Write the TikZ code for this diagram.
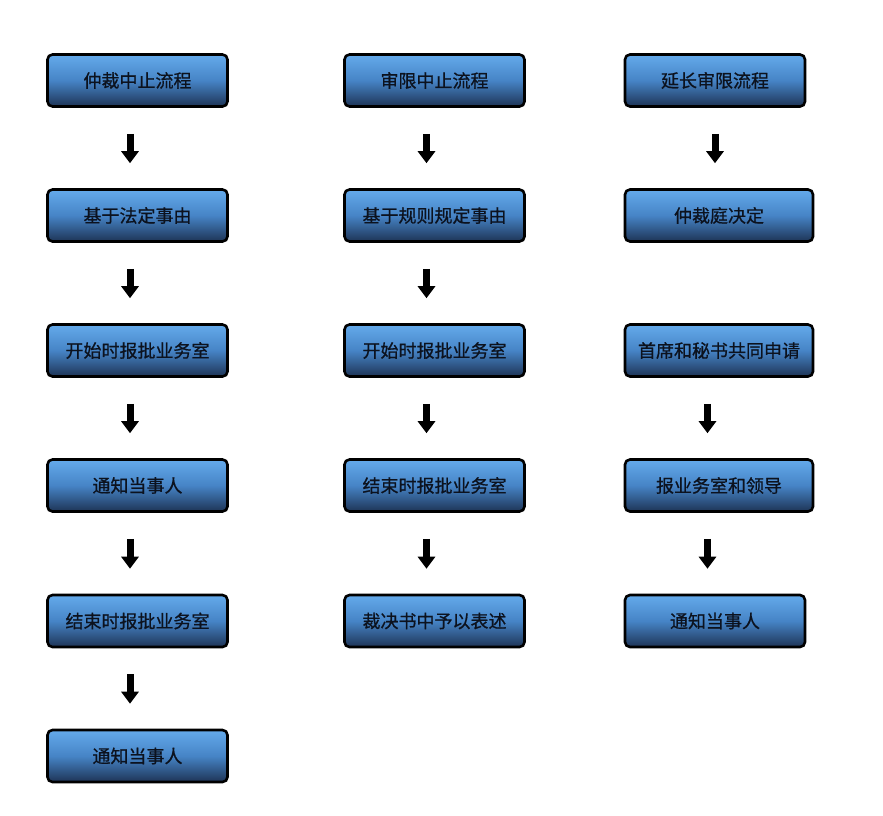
\documentclass[tikz,border=0pt]{standalone}
\usepackage{fontspec}
\setmainfont{Noto Sans CJK SC}
\newfontfamily\boxfont{Noto Sans CJK SC}[FakeBold=0.8]
\usetikzlibrary{arrows.meta}
\definecolor{boxtop}{RGB}{100,170,235}
\definecolor{boxmid}{RGB}{70,132,198}
\definecolor{boxbot}{RGB}{30,52,86}
\definecolor{boxtext}{RGB}{12,18,30}
\tikzset{
    stepbox/.style={draw=black, line width=2.6pt, rounded corners=5pt,
        top color=boxtop, bottom color=boxbot, middle color=boxmid,
        minimum width=#1, minimum height=52pt, inner sep=0pt,
        text=boxtext, font=\boxfont\fontsize{18pt}{21pt}\selectfont},
    stepbox/.default=180pt,
    flowarrow/.style={line width=7pt, -{Triangle[width=17pt,length=12pt]}}
}
\begin{document}
\begin{tikzpicture}[x=1pt, y=-1pt]
    \useasboundingbox (0,0) rectangle (883,815);
    % first column
    \node[stepbox] (c1r1) at (137.5,80.5) {仲裁中止流程};
    \node[stepbox] (c1r2) at (137.5,215.5) {基于法定事由};
    \node[stepbox] (c1r3) at (137.5,350.5) {开始时报批业务室};
    \node[stepbox] (c1r4) at (137.5,485.5) {通知当事人};
    \node[stepbox] (c1r5) at (137.5,621) {结束时报批业务室};
    \node[stepbox] (c1r6) at (137.5,756) {通知当事人};
    % second column
    \node[stepbox] (c2r1) at (434.5,80.5) {审限中止流程};
    \node[stepbox] (c2r2) at (434.5,215.5) {基于规则规定事由};
    \node[stepbox] (c2r3) at (434.5,350.5) {开始时报批业务室};
    \node[stepbox] (c2r4) at (434.5,485.5) {结束时报批业务室};
    \node[stepbox] (c2r5) at (434.5,621) {裁决书中予以表述};
    % third column
    \node[stepbox] (c3r1) at (715,80.5) {延长审限流程};
    \node[stepbox=188pt] (c3r2) at (719,215.5) {仲裁庭决定};
    \node[stepbox=188pt] (c3r3) at (719,350.5) {首席和秘书共同申请};
    \node[stepbox=188pt] (c3r4) at (719,485.5) {报业务室和领导};
    \node[stepbox] (c3r5) at (715,621) {通知当事人};
    % arrows
    \foreach \a/\b/\dx in {c1r1/c1r2/-7.5, c1r2/c1r3/-7.5, c1r3/c1r4/-7.5, c1r4/c1r5/-7.5, c1r5/c1r6/-7.5,
        c2r1/c2r2/-8, c2r2/c2r3/-8, c2r3/c2r4/-8, c2r4/c2r5/-8,
        c3r1/c3r2/0, c3r3/c3r4/-11.5, c3r4/c3r5/-11.5} {
        \coordinate (s) at ([xshift=\dx pt, yshift=-26pt]\a.south);
        \coordinate (e) at ([yshift=25pt]\b.north);
        \draw[flowarrow] (s) -- (s |- e);
    }
\end{tikzpicture}
\end{document}
